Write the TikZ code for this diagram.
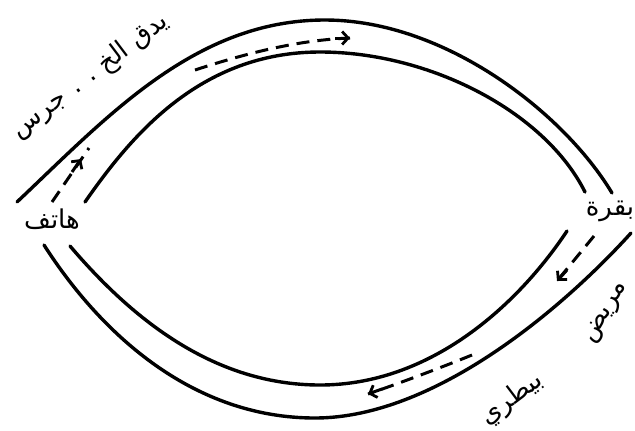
\documentclass[tikz,border=0pt]{standalone}
\usepackage{fontspec}
\newfontfamily\arabicfont[Script=Arabic]{DejaVu Sans}
\TeXXeTstate=1
\usetikzlibrary{arrows.meta}
\begin{document}
\begin{tikzpicture}[x=1bp,y=-1bp,
  wall/.style={line width=3.4bp, line cap=round},
  flow/.style={line width=3bp, dash pattern=on 13bp off 8bp},
  tip/.style={-{Straight Barb[length=6bp,width=13bp,line width=2.8bp]}, line width=3bp},
  lab/.style={font=\arabicfont\fontsize{26}{30}\selectfont, inner sep=0pt}]
\useasboundingbox (0,0) rectangle (635,430);
% walls
\coordinate (to1) at (17,202); \coordinate (to2) at (612,193);
\coordinate (ti1) at (85,202); \coordinate (ti2) at (585,192);
\coordinate (bo1) at (44,245); \coordinate (bo2) at (631,233);
\coordinate (bi1) at (70,246); \coordinate (bi2) at (567,231);
\draw[wall] (to1) .. controls (107,117) and (195,20) .. (325,20)
                  .. controls (445,20) and (564,113) .. (to2);
\draw[wall] (ti1) .. controls (131,136) and (200,52) .. (320,52)
                  .. controls (430,52) and (545,112) .. (ti2);
\draw[wall] (bo1) .. controls (103,337) and (195,418) .. (315,418)
                  .. controls (435,418) and (564,307) .. (bo2);
\draw[wall] (bi1) .. controls (128,314) and (210,385) .. (320,385)
                  .. controls (430,385) and (517,306) .. (bi2);
% flows
\coordinate (t1) at (195,70); \coordinate (t2) at (350,38);
\draw[flow] (t1) .. controls (250,52) and (300,40) .. (t2);
\draw[tip] (335,38) -- (t2);
\coordinate (l1) at (52,202); \coordinate (l2) at (89,148);
\draw[flow] (l1) -- (l2);
\draw[tip] (72,172) -- (81,159);
\coordinate (r1) at (594,236); \coordinate (r2) at (557,281);
\draw[flow] (r1) -- (r2);
\draw[tip] (567,270) -- (r2);
\coordinate (b1) at (472,355); \coordinate (b2) at (368,394);
\draw[flow] (b1) .. controls (440,368) and (400,383) .. (b2);
\draw[tip] (382,389) -- (b2);
% labels
\node[lab, rotate=37] (bell) at (90,76) {\beginR يدق الخ . . جرس\endR};
\node[lab] (phone) at (52,219) {\beginR هاتف\endR};
\node[lab] (cow) at (610,211) {\beginR بقرة\endR};
\node[lab, rotate=60] (sick) at (607,313) {\beginR مريض\endR};
\node[lab, rotate=37] (vet) at (512,399) {\beginR بيطري\endR};
\end{tikzpicture}
\end{document}
